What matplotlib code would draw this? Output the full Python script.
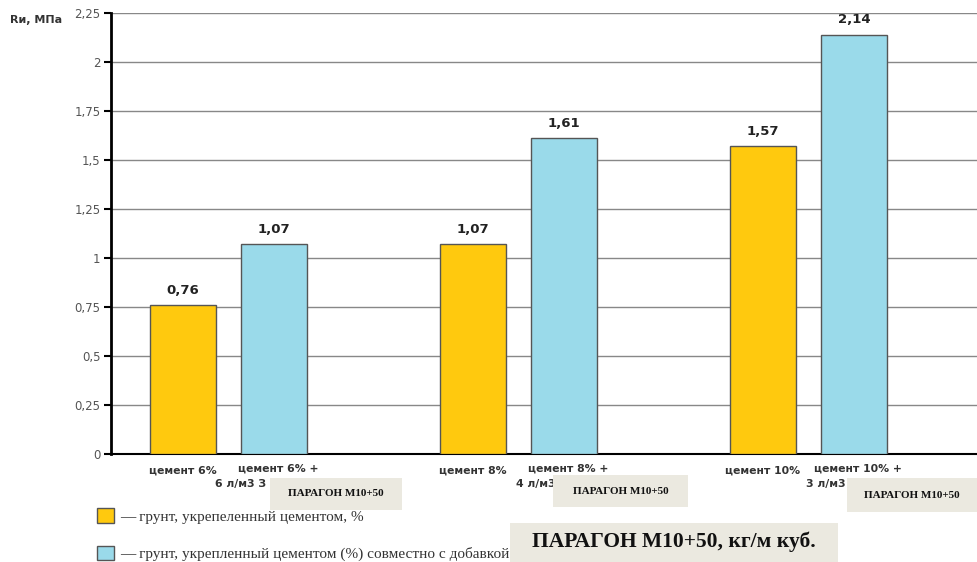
import numpy as np
import matplotlib.pyplot as plt
from matplotlib.patches import Rectangle
from matplotlib.transforms import blended_transform_factory

# data
cement_lbl = ['цемент 6%', 'цемент 8%', 'цемент 10%']
combo_top = ['цемент 6% +', 'цемент 8% +', 'цемент 10% +']
combo_bot = ['6 л/м3 З', '4 л/м3', '3 л/м3']
cement = [0.76, 1.07, 1.57]
cement_add = [1.07, 1.61, 2.14]
yticks = [0, 0.25, 0.5, 0.75, 1, 1.25, 1.5, 1.75, 2, 2.25]
ytick_lbl = ['0', '0,25', '0,5', '0,75', '1', '1,25', '1,5', '1,75', '2', '2,25']
legend_lbl = ['— грунт, укрепеленный цементом, %',
              '— грунт, укрепленный цементом (%) совместно с добавкой']
box_txt = 'ПАРАГОН М10+50'
big_txt = 'ПАРАГОН М10+50, кг/м куб.'

W, H = 977, 562
orange = '#FFC90E'
blue = '#9ADAEA'
beige = '#EBE9E0'
sans = 'DejaVu Sans'
serif = 'Liberation Serif'

def fx(x):
    return x / W

def fy(y):
    return 1 - y / H

fig = plt.figure(figsize=(W / 100, H / 100), dpi=100)
ax = fig.add_axes([fx(111), fy(454), fx(977 - 111), (454 - 13) / H])

x = np.arange(len(cement))
off = 0.157
w = 0.228
b1 = ax.bar(x - off, cement, w, color=orange, edgecolor='#555555', linewidth=1, zorder=3)
b2 = ax.bar(x + off, cement_add, w, color=blue, edgecolor='#555555', linewidth=1, zorder=3)

for bars, vals in ((b1, cement), (b2, cement_add)):
    for r, v in zip(bars, vals):
        ax.annotate(f'{v:.2f}'.replace('.', ','), (r.get_x() + r.get_width() / 2, v),
                    xytext=(0, 6), textcoords='offset points', ha='center', va='bottom',
                    fontsize=9.5, fontweight='bold', color='#222222', family=sans)

ax.set_xlim(-0.405, 2.581)
ax.set_ylim(0, 2.25)
ax.set_yticks(yticks)
ax.set_yticklabels(ytick_lbl, family=sans, fontsize=8.5, color='#555555')
ax.set_xticks([])
ax.yaxis.grid(True, color='#888888', linewidth=1)
ax.set_axisbelow(True)
ax.tick_params(axis='y', length=5, width=1.5, pad=2.5, color='black')
for s in ('top', 'right'):
    ax.spines[s].set_visible(False)
ax.spines['left'].set_linewidth(2)
ax.spines['bottom'].set_linewidth(1.5)

tr = blended_transform_factory(ax.transData, fig.transFigure)
for i in range(len(x)):
    ax.text(x[i] - off, fy(471), cement_lbl[i], transform=tr, ha='center', va='center',
            fontsize=7.8, fontweight='bold', color='#333333', family=sans, clip_on=False)
    ax.text(x[i] + off + 0.015, fy(469), combo_top[i], transform=tr, ha='center', va='center',
            fontsize=7.8, fontweight='bold', color='#333333', family=sans, clip_on=False)
    ax.text(x[i] + off - 0.028, fy(484), combo_bot[i], transform=tr, ha='right', va='center',
            fontsize=7.8, fontweight='bold', color='#333333', family=sans, clip_on=False)

fig.text(fx(10), fy(20), 'Rи, МПа', fontsize=8, fontweight='bold', color='#333333',
         family=sans, va='center', ha='left')

fig.legend([b1, b2], legend_lbl, loc='upper left', bbox_to_anchor=(fx(97), fy(508)),
           frameon=False, borderpad=0, borderaxespad=0, handlelength=1.1, handleheight=1.1,
           handletextpad=0.4, labelspacing=1.45, prop={'family': serif, 'size': 11},
           labelcolor='#333333')

# label boxes
for (x0, y0, x1, y1) in ((270, 478, 402, 510), (553, 475, 688, 507), (847, 478, 977, 512)):
    fig.patches.append(Rectangle((fx(x0), fy(y1)), fx(x1 - x0), (y1 - y0) / H,
                                 transform=fig.transFigure, facecolor=beige,
                                 edgecolor='none', zorder=6))
    fig.text(fx((x0 + x1) / 2), fy((y0 + y1) / 2), box_txt, ha='center', va='center',
             fontsize=8, fontweight='bold', family=serif, color='#111111', zorder=7)

fig.patches.append(Rectangle((fx(510), fy(562)), fx(838 - 510), (562 - 523) / H,
                             transform=fig.transFigure, facecolor=beige,
                             edgecolor='none', zorder=6))
fig.text(fx(674), fy(542), big_txt, ha='center', va='center', fontsize=15.5,
         fontweight='bold', family=serif, color='#111111', zorder=7)

fig.savefig('out.png', dpi=100)
